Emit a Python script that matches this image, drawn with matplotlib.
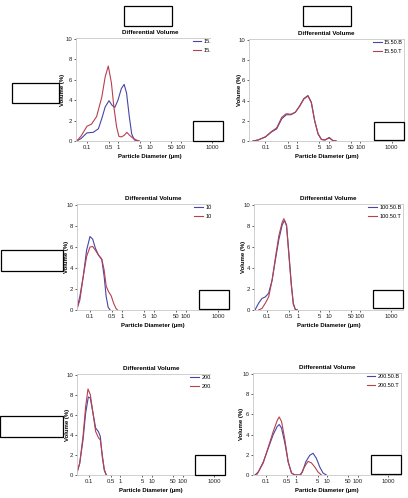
import matplotlib
matplotlib.use("Agg")
import matplotlib.pyplot as plt
from matplotlib.patches import Rectangle
from matplotlib.ticker import FixedLocator, FixedFormatter, NullLocator

plt.rcParams["font.family"] = ["Liberation Sans Narrow", "Liberation Sans", "DejaVu Sans"]

W, H = 408, 498

# ---- data (particle diameter in um, volume in %) ----
p1_blue_x = [0.047, 0.065, 0.1, 0.158, 0.231, 0.297, 0.382, 0.505, 0.634, 0.777, 0.975, 1.26, 1.54, 1.84, 2.25, 2.68, 3.28, 4.23]
p1_blue_y = [0.0, 0.25, 0.8, 0.85, 1.2, 2.2, 3.35, 3.95, 3.5, 3.3, 4.0, 5.15, 5.55, 4.7, 2.4, 0.7, 0.1, 0.0]
p1_red_x = [0.047, 0.065, 0.1, 0.139, 0.203, 0.297, 0.382, 0.48, 0.603, 0.72, 0.881, 1.05, 1.26, 1.54, 1.88, 2.31, 2.9, 3.73, 4.8]
p1_red_y = [0.0, 0.5, 1.45, 1.65, 2.4, 4.3, 6.3, 7.35, 5.7, 3.4, 1.4, 0.45, 0.4, 0.55, 0.85, 0.55, 0.3, 0.1, 0.0]

p2_blue_x = [0.04, 0.058, 0.1, 0.156, 0.226, 0.328, 0.453, 0.64, 0.884, 1.22, 1.64, 2.21, 2.83, 3.62, 4.64, 5.94, 7.62, 10.5, 13.5, 17.3]
p2_blue_y = [0.0, 0.1, 0.4, 0.9, 1.2, 2.2, 2.6, 2.6, 2.85, 3.5, 4.2, 4.5, 3.85, 2.0, 0.7, 0.15, 0.1, 0.35, 0.05, 0.0]
p2_red_x = [0.04, 0.058, 0.1, 0.156, 0.226, 0.328, 0.453, 0.64, 0.884, 1.22, 1.64, 2.21, 2.83, 3.62, 4.64, 5.94, 7.62, 10.5, 13.5, 17.3]
p2_red_y = [0.0, 0.1, 0.42, 0.95, 1.3, 2.35, 2.7, 2.65, 2.85, 3.45, 4.15, 4.45, 3.8, 2.0, 0.7, 0.15, 0.1, 0.3, 0.05, 0.0]

p3_blue_x = [0.04, 0.0483, 0.0616, 0.0785, 0.1, 0.1214, 0.147, 0.183, 0.234, 0.277, 0.32, 0.37, 0.428]
p3_blue_y = [0.25, 1.3, 3.2, 5.7, 7.0, 6.75, 5.9, 5.25, 4.8, 3.2, 1.3, 0.25, 0.0]
p3_red_x = [0.04, 0.0483, 0.0616, 0.0785, 0.1, 0.1214, 0.147, 0.183, 0.234, 0.277, 0.32, 0.379, 0.46, 0.546, 0.647, 0.73]
p3_red_y = [0.15, 0.95, 3.2, 5.1, 6.0, 6.05, 5.7, 5.25, 4.85, 3.8, 2.3, 1.75, 1.35, 0.65, 0.15, 0.0]

p4_blue_x = [0.0417, 0.0535, 0.0687, 0.0883, 0.113, 0.146, 0.187, 0.24, 0.308, 0.367, 0.427, 0.509, 0.606, 0.705, 0.819, 0.951]
p4_blue_y = [0.05, 0.65, 1.1, 1.25, 1.6, 2.85, 4.8, 6.7, 8.1, 8.55, 8.1, 5.4, 2.55, 0.65, 0.05, 0.0]
p4_red_x = [0.0535, 0.0687, 0.0883, 0.113, 0.146, 0.187, 0.24, 0.308, 0.349, 0.427, 0.509, 0.606, 0.705, 0.819, 0.951]
p4_red_y = [0.0, 0.15, 0.65, 1.25, 2.85, 5.0, 7.05, 8.35, 8.7, 8.0, 5.15, 2.4, 0.55, 0.05, 0.0]

p5_blue_x = [0.0414, 0.0504, 0.0644, 0.0783, 0.0952, 0.110, 0.134, 0.163, 0.199, 0.230, 0.266, 0.309, 0.357]
p5_blue_y = [0.3, 1.15, 3.5, 6.2, 7.8, 7.7, 6.2, 4.7, 4.35, 3.85, 1.8, 0.45, 0.0]
p5_red_x = [0.0414, 0.0504, 0.0644, 0.0783, 0.0929, 0.110, 0.134, 0.163, 0.199, 0.230, 0.266, 0.309, 0.357]
p5_red_y = [0.2, 1.15, 3.85, 6.85, 8.6, 8.05, 6.2, 4.35, 3.75, 3.5, 2.0, 0.55, 0.0]

p6_blue_x = [0.0438, 0.0562, 0.0819, 0.119, 0.173, 0.234, 0.272, 0.324, 0.417, 0.535, 0.687, 0.883, 1.28, 1.57, 2.01, 2.72, 3.49, 4.49, 5.77, 7.41, 9.51]
p6_blue_y = [0.0, 0.3, 1.3, 2.65, 4.0, 4.8, 5.0, 4.65, 3.15, 1.3, 0.2, 0.0, 0.0, 0.3, 1.3, 1.95, 2.15, 1.65, 0.8, 0.2, 0.0]
p6_red_x = [0.0496, 0.0819, 0.119, 0.173, 0.234, 0.272, 0.324, 0.417, 0.535, 0.687, 0.883, 1.38, 1.65, 2.01, 2.40, 3.08, 3.96, 5.09, 6.54]
p6_red_y = [0.0, 1.2, 2.75, 4.3, 5.4, 5.75, 5.3, 3.5, 1.3, 0.2, 0.0, 0.0, 0.55, 1.0, 1.35, 1.2, 0.8, 0.3, 0.0]

x_ticks = [0.1, 0.5, 1, 5, 10, 50, 100, 1000]
x_tick_labels = ["0.1", "0.5", "1", "5", "10", "50", "100", "1000"]
y_ticks = [0, 2, 4, 6, 8, 10]

BLUE = "#4646a6"
RED = "#b8404f"
FRAME = "#c8c8c8"

# panel layout in pixels: left, top, right, bottom; ylab = x pixel of the y label
panels = [
    dict(box=(76, 38, 224, 141), xlim=(0.0445, 2400), left=True, ylab=62,
         blue=(p1_blue_x, p1_blue_y), red=(p1_red_x, p1_red_y),
         labels=("15.10.T", "15.10.B")),
    dict(box=(249, 39, 404, 141), xlim=(0.03, 2450), left=False, ylab=239,
         blue=(p2_blue_x, p2_blue_y), red=(p2_red_x, p2_red_y),
         labels=("15.50.B", "15.50.T")),
    dict(box=(77, 204, 229, 310), xlim=(0.0393, 2200), left=True, ylab=66,
         blue=(p3_blue_x, p3_blue_y), red=(p3_red_x, p3_red_y),
         labels=("100.10.B", "100.10.T")),
    dict(box=(254, 204, 403, 310), xlim=(0.038, 2450), left=False, ylab=243,
         blue=(p4_blue_x, p4_blue_y), red=(p4_red_x, p4_red_y),
         labels=("100.50.B", "100.50.T")),
    dict(box=(77, 374, 225, 475), xlim=(0.0414, 2210), left=True, ylab=67,
         blue=(p5_blue_x, p5_blue_y), red=(p5_red_x, p5_red_y),
         labels=("200.10.B", "200.10.T")),
    dict(box=(253, 373, 401, 475), xlim=(0.0377, 2650), left=False, ylab=241,
         blue=(p6_blue_x, p6_blue_y), red=(p6_red_x, p6_red_y),
         labels=("200.50.B", "200.50.T")),
]


def px_axes(fig, l, t, r, b):
    return fig.add_axes([l / W, 1 - b / H, (r - l) / W, (b - t) / H])


def px_box(fig, l, t, r, b, **kw):
    rect = Rectangle((l / W, 1 - b / H), (r - l) / W, (b - t) / H,
                     transform=fig.transFigure, **kw)
    fig.add_artist(rect)


fig = plt.figure(figsize=(W / 100, H / 100), dpi=100)

for p in panels:
    l, t, r, b = p["box"]
    ax = px_axes(fig, l, t, r, b)
    ax.set_zorder(0 if p["left"] else 2)
    ax.plot(*p["blue"], color=BLUE, lw=0.8, label=p["labels"][0])
    ax.plot(*p["red"], color=RED, lw=0.8, label=p["labels"][1])
    ax.set_xscale("log")
    ax.set_xlim(*p["xlim"])
    ax.set_ylim(0, 10.1)
    ax.xaxis.set_major_locator(FixedLocator(x_ticks))
    ax.xaxis.set_major_formatter(FixedFormatter(x_tick_labels))
    ax.xaxis.set_minor_locator(NullLocator())
    ax.set_yticks(y_ticks)
    ax.tick_params(labelsize=4.3, length=1.5, width=0.5, pad=1.5, colors="#222222")
    for side, sp in ax.spines.items():
        sp.set_color(FRAME)
        sp.set_linewidth(0.6)
    if p["left"]:
        ax.spines["right"].set_visible(False)
    ax.set_title("Differential Volume", fontsize=4.5, fontweight="bold", pad=3)
    ax.set_xlabel("Particle Diameter (µm)", fontsize=4.3, fontweight="bold", labelpad=3)
    ax.set_ylabel("Volume (%)", fontsize=4.3, fontweight="bold")
    # label anchor is the right edge of the rotated text, so add half its height
    ax.yaxis.set_label_coords((p["ylab"] + 3 - l) / (r - l), 0.5)
    ax.legend(loc="upper right", fontsize=4, frameon=False, handlelength=1.6,
              handletextpad=0.4, labelspacing=0.6, borderpad=0.0, borderaxespad=0.25)

# right-hand images were pasted over the edge of the left ones
for top in (30, 196, 365):
    px_box(fig, 211, top, 236, top + 70, facecolor="white", edgecolor="none", zorder=1)

# redaction boxes
boxes = [
    (124, 6, 172, 26), (303, 6, 351, 26),
    (12, 83, 59, 103),
    (193, 121, 223, 141), (374, 122, 404, 140),
    (1, 250, 63, 271),
    (199, 290, 229, 309), (373, 290, 403, 308),
    (0, 416, 63, 437),
    (195, 455, 225, 475), (371, 455, 401, 474),
]
for b in boxes:
    px_box(fig, *b, facecolor="white", edgecolor="black", lw=0.9, zorder=5)

fig.savefig("out.png", dpi=100)
